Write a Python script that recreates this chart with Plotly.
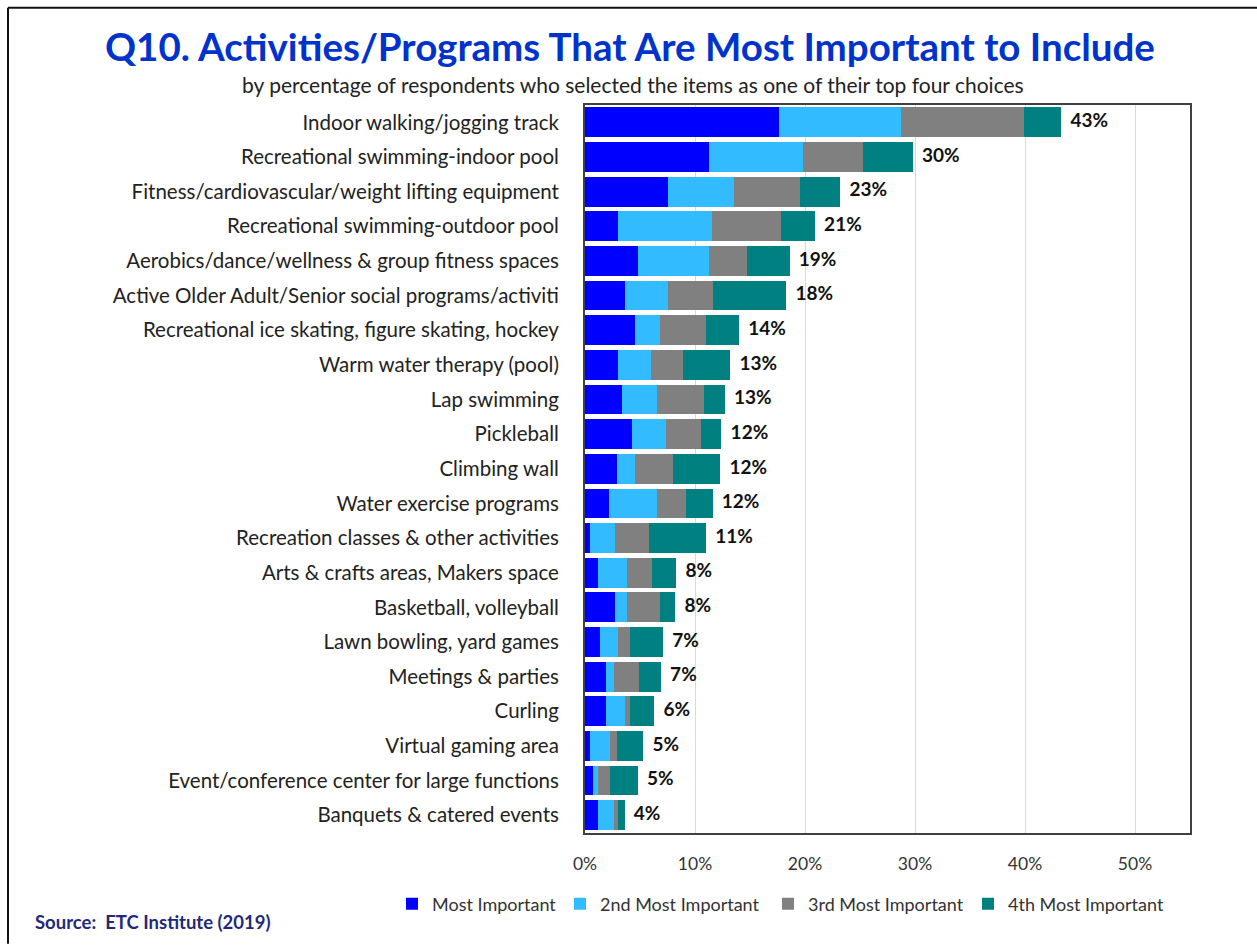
import plotly.graph_objects as go

# Activities, listed from top to bottom
activities = [
    "Indoor walking/jogging track",
    "Recreational swimming-indoor pool",
    "Fitness/cardiovascular/weight lifting equipment",
    "Recreational swimming-outdoor pool",
    "Aerobics/dance/wellness & group fitness spaces",
    "Active Older Adult/Senior social programs/activiti",
    "Recreational ice skating, figure skating, hockey",
    "Warm water therapy (pool)",
    "Lap swimming",
    "Pickleball",
    "Climbing wall",
    "Water exercise programs",
    "Recreation classes & other activities",
    "Arts & crafts areas, Makers space",
    "Basketball, volleyball",
    "Lawn bowling, yard games",
    "Meetings & parties",
    "Curling",
    "Virtual gaming area",
    "Event/conference center for large functions",
    "Banquets & catered events",
]

# Percent of respondents per ranking
most_important = [17.6, 11.3, 7.5, 3.0, 4.8, 3.6, 4.5, 3.0, 3.4, 4.3, 2.9,
                  2.2, 0.45, 1.15, 2.7, 1.4, 1.9, 1.9, 0.45, 0.7, 1.15]
second_most = [11.1, 8.5, 6.0, 8.5, 6.5, 3.9, 2.3, 3.0, 3.1, 3.1, 1.6,
               4.3, 2.25, 2.7, 1.15, 1.6, 0.7, 1.7, 1.85, 0.45, 1.45]
third_most = [11.2, 5.5, 6.0, 6.3, 3.4, 4.1, 4.2, 2.9, 4.3, 3.1, 3.5,
              2.7, 3.1, 2.25, 2.95, 1.1, 2.3, 0.5, 0.6, 1.15, 0.4]
fourth_most = [3.4, 4.5, 3.7, 3.1, 3.9, 6.7, 3.0, 4.3, 1.9, 1.9, 4.3,
               2.4, 5.2, 2.2, 1.4, 3.0, 2.0, 2.2, 2.4, 2.5, 0.6]

series_names = ["Most Important", "2nd Most Important",
                "3rd Most Important", "4th Most Important"]
series_values = [most_important, second_most, third_most, fourth_most]
series_colors = ["#0000FF", "#33BBFF", "#808080", "#008080"]

x_ticks = [0, 10, 20, 30, 40, 50]

totals = [sum(v) for v in zip(*series_values)]
total_labels = [f"{round(t):d}%" for t in totals]

FONT = "Lato"

W, H = 1257, 950
L, R, T, B = 585, 67, 105, 112
pw, ph = W - L - R, H - T - B


def px_x(x):
    return (x - L) / pw


def px_y(y):
    return (H - B - y) / ph


# One legend per series so each key sits at its own spot in the row
legend_ids = ["legend", "legend2", "legend3", "legend4"]
legend_left = [392, 560, 768, 968]

fig = go.Figure()
for name, vals, color, lid in zip(series_names, series_values,
                                  series_colors, legend_ids):
    fig.add_trace(go.Bar(
        y=activities, x=[v / 100 for v in vals], name=name, orientation="h",
        marker=dict(color=color, line=dict(width=0)),
        hoverinfo="skip", legend=lid,
    ))

# Totals printed past the end of each bar
fig.add_trace(go.Scatter(
    y=activities, x=[t / 100 for t in totals], mode="text",
    text=total_labels, textposition="middle right",
    texttemplate="  %{text}",
    textfont=dict(family=FONT, size=19, color="#111111", weight="bold"),
    showlegend=False, hoverinfo="skip", cliponaxis=False,
))

legend_style = dict(
    orientation="h", xref="container", yref="container",
    xanchor="left", y=1 - 904 / H, yanchor="middle",
    font=dict(family=FONT, size=18, color="#333333"),
    itemwidth=30, bgcolor="rgba(0,0,0,0)",
)
legend_layout = {
    lid: dict(legend_style, x=lx / W)
    for lid, lx in zip(legend_ids, legend_left)
}

fig.update_layout(
    width=W, height=H,
    barmode="stack", bargap=0.14,
    paper_bgcolor="white", plot_bgcolor="white",
    margin=dict(l=L, r=R, t=T, b=B),
    font=dict(family=FONT, color="#222222"),
    xaxis=dict(
        range=[0, 0.55], tickvals=[t / 100 for t in x_ticks],
        ticktext=[f"{t}%" for t in x_ticks],
        showgrid=True, gridcolor="#D9D9D9", gridwidth=1,
        zeroline=False, showline=True, linecolor="#404040", linewidth=2,
        mirror=True, ticks="", tickfont=dict(size=17.5, color="#333333"),
        ticklabelstandoff=14,
    ),
    yaxis=dict(
        categoryorder="array", categoryarray=activities[::-1],
        range=[-0.5, len(activities) - 0.5], autorange=False,
        showline=True, linecolor="#404040", linewidth=2, mirror=True,
        ticks="", tickfont=dict(size=20.5, color="#222222"),
        ticklabelstandoff=20,
    ),
    showlegend=True,
    **legend_layout,
)

fig.add_annotation(
    text="<b>Q10. Activities/Programs That Are Most Important to Include</b>",
    xref="paper", yref="paper", x=px_x(630), y=px_y(46),
    xanchor="center", yanchor="middle", showarrow=False,
    font=dict(family=FONT, size=38.5, color="#0033CC"),
)
fig.add_annotation(
    text="by percentage of respondents who selected the items as one of their top four choices",
    xref="paper", yref="paper", x=px_x(633), y=px_y(84), xanchor="center",
    yanchor="middle", showarrow=False,
    font=dict(family=FONT, size=21, color="#222222"),
)
fig.add_annotation(
    text="<b>Source:  ETC Institute (2019)</b>",
    xref="paper", yref="paper", x=px_x(33), y=px_y(928),
    xanchor="left", yanchor="middle",
    showarrow=False, font=dict(family=FONT, size=18.5, color="#1F2A7A"),
)

# Page frame along the top and left edges
fig.add_shape(type="line", xref="paper", yref="paper",
              x0=px_x(8), x1=px_x(1257), y0=px_y(7), y1=px_y(7),
              line=dict(color="#111111", width=2))
fig.add_shape(type="line", xref="paper", yref="paper",
              x0=px_x(8), x1=px_x(8), y0=px_y(7), y1=px_y(950),
              line=dict(color="#111111", width=2))

fig.write_html("out.html")
